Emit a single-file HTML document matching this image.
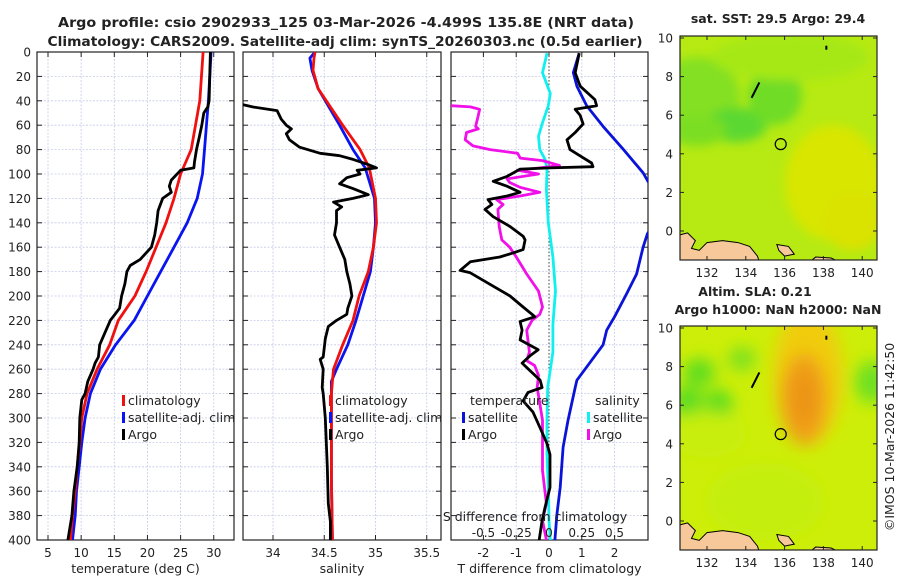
<!DOCTYPE html>
<html><head><meta charset="utf-8"><style>
html,body{margin:0;padding:0;background:#fff;}
svg{display:block;font-family:"DejaVu Sans","Liberation Sans",sans-serif;}
</style></head><body>
<svg id="chart" width="900" height="580" viewBox="0 0 900 580" xmlns="http://www.w3.org/2000/svg">
<defs>
<clipPath id="c1"><rect x="37" y="52" width="197" height="488"/></clipPath>
<clipPath id="c2"><rect x="243" y="52" width="198" height="488"/></clipPath>
<clipPath id="c3"><rect x="451" y="52" width="197" height="488"/></clipPath>
<clipPath id="cm1"><rect x="680" y="36" width="197" height="224"/></clipPath>
<clipPath id="cm2"><rect x="680" y="326" width="197" height="224"/></clipPath>
<filter id="blur8" x="-50%" y="-50%" width="200%" height="200%"><feGaussianBlur stdDeviation="8"/></filter>
<filter id="blur5" x="-50%" y="-50%" width="200%" height="200%"><feGaussianBlur stdDeviation="5"/></filter>
</defs>
<g id="layer"></g>
</svg>
<script>
// ---------- data ----------
const tempDepth = [0,40,80,100,120,140,160,180,200,220,240,260,280,300,320,340,360,380,400];
const tempClim  = [28.4,27.9,26.6,25,24,22.8,21.3,19.8,18.1,15.6,14.3,12.4,10.9,10.1,9.8,9.4,9.1,8.7,8.4];
const tempSat   = [29.6,29.2,28.6,28.3,27.5,26,24,22,20,18,15.2,12.9,11.4,10.6,10.1,9.7,9.3,9.1,8.7];
const argoTDepth = [0,40,45,50,60,70,80,90,95,97,105,110,115,120,130,140,150,160,170,175,180,190,200,210,215,220,230,240,250,255,260,270,280,285,300,320,340,360,380,400];
const argoT      = [29.5,29.3,29.1,28.5,28.2,27.8,27.4,27.1,27,25,23.6,23.3,23.6,22.3,21.6,21.4,21.1,20.6,18.9,17.4,16.9,16.6,16.1,15.8,15.1,14.4,13.6,12.8,12.6,12.1,11.8,11,10.6,10.1,9.8,9.7,9.4,8.9,8.6,8.0];

const salDepth = [0,5,15,30,60,80,95,120,140,160,180,200,220,240,260,270,280,300,350,400];
const salClim  = [34.41,34.40,34.39,34.44,34.68,34.85,34.94,35.0,35.01,34.98,34.93,34.84,34.78,34.68,34.59,34.58,34.57,34.57,34.57,34.58];
const salSat   = [34.41,34.36,34.38,34.44,34.65,34.78,34.9,34.99,35.0,34.98,34.95,34.88,34.81,34.73,34.62,34.57,34.57,34.57,34.57,34.58];
const argoSDepth = [43,45,48,55,60,63,67,72,78,83,85,88,92,95,97,100,103,108,112,117,120,123,127,130,140,150,160,170,180,190,200,210,215,220,225,235,250,252,260,275,280,300,340,370,385,400];
const argoS      = [33.7,33.8,34.04,34.08,34.13,34.18,34.13,34.16,34.26,34.46,34.65,34.78,34.92,35.01,34.82,34.85,34.72,34.65,34.78,34.93,34.78,34.59,34.67,34.62,34.62,34.6,34.65,34.7,34.72,34.75,34.77,34.73,34.72,34.62,34.54,34.51,34.49,34.46,34.49,34.48,34.49,34.51,34.53,34.54,34.56,34.56];

const satTDiffDepth = [1,17,28,44,61,80,99,110,125,140,149,160,182,198,217,228,240,269,275,302,324,357,379,400];
const satTDiff      = [0.92,0.74,0.85,1.15,1.65,2.27,2.87,3.1,3.3,3.2,3.0,2.87,2.67,2.37,2.0,1.76,1.65,0.85,0.8,0.58,0.43,0.34,0.24,0.18];
const argoTDiffDepth = [1,17,28,39,44,47,52,59,66,72,80,86,91,94,95,96,102,106,110,115,118,121,125,129,135,143,151,154,162,165,168,172,179,181,192,200,209,217,221,228,236,244,249,255,269,275,279,286,295,308,321,330,357,373,384,400];
const argoTDiff      = [0.92,0.8,0.95,1.4,1.45,0.8,0.95,1.04,0.8,0.55,0.64,1.0,1.3,1.34,0.03,-0.88,-1.28,-1.7,-1.28,-0.88,-1.28,-1.86,-1.74,-1.95,-1.7,-1.19,-0.79,-0.73,-0.79,-1.13,-1.5,-2.4,-2.71,-2.4,-1.7,-1.19,-0.79,-0.43,-0.88,-0.82,-0.88,-0.33,-0.58,-0.82,-0.27,-0.21,-0.64,-0.79,-0.49,-0.27,-0.06,0.03,0.03,-0.12,-0.21,-0.3];
const satSDiffDepth = [1,17,34,44,58,69,80,88,96,113,140,168,196,223,246,275,302,330,357,384,400];
const satSDiff      = [-0.015,-0.05,0.01,-0.005,-0.05,-0.08,-0.07,-0.03,-0.015,-0.02,-0.005,0.03,0.05,0.03,0.03,-0.01,-0.015,-0.015,-0.005,0,0.01];
const argoSDiffDepth = [44,45,47,52,61,63,66,72,77,80,83,87,89,93,95,97,100,104,107,111,115,118,121,125,129,143,154,160,168,182,196,209,215,220,228,246,253,257,265,275,288,302,319,343,370,384,400];
const argoSDiff      = [-0.75,-0.6,-0.53,-0.54,-0.56,-0.54,-0.63,-0.64,-0.58,-0.45,-0.24,-0.22,-0.05,0.08,-0.07,-0.24,-0.08,-0.32,-0.3,-0.22,-0.07,-0.22,-0.4,-0.35,-0.39,-0.38,-0.36,-0.3,-0.25,-0.17,-0.08,-0.05,-0.07,-0.13,-0.17,-0.15,-0.17,-0.11,-0.08,-0.09,-0.07,-0.05,-0.05,-0.05,-0.02,-0.05,-0.02];

const depthTicks = [0,20,40,60,80,100,120,140,160,180,200,220,240,260,280,300,320,340,360,380,400];
const tempTicks = [5,10,15,20,25,30];
const salTicks = [34,34.5,35,35.5];
const salTickLabels = ["34","34.5","35","35.5"];
const tDiffTicks = [-2,-1,0,1,2];
const sDiffTicks = [-0.5,-0.25,0,0.25,0.5];
const sDiffTickLabels = ["-0.5","-0.25","0","0.25","0.5"];
const lonTicks = [132,134,136,138,140];
const latTicks = [0,2,4,6,8,10];

// ---------- scales ----------
const yD = d => 52 + d*1.22;
const xT = t => 48 + (t-5)*6.63;
const xS = s => 273 + (s-34)*102.5;
const xTD = v => 549 + v*32.8;
const xSD = v => 549 + v*131;
const lonX = l => 707 + (l-132)*19.4;
const lat1 = a => 231 - a*19.3;
const lat2 = a => 521 - a*19.3;

const NS = "http://www.w3.org/2000/svg";
const root = document.getElementById("layer");
function mk(tag, attrs, parent){
  const e = document.createElementNS(NS, tag);
  for (const k in attrs) e.setAttribute(k, attrs[k]);
  (parent||root).appendChild(e);
  return e;
}
function txt(x,y,s,size,anchor,weight,parent){
  const e = mk("text",{x:x,y:y,"font-size":size,"text-anchor":anchor||"middle","font-weight":weight||"normal",fill:"#222"},parent);
  e.textContent = s;
  return e;
}

// ---------- titles ----------
let t1 = txt(346,27,"Argo profile: csio 2902933_125 03-Mar-2026 -4.499S 135.8E (NRT data)",13,"middle","bold");
t1.setAttribute("textLength","576");
t1.setAttribute("lengthAdjust","spacingAndGlyphs");


let t2 = txt(345,46,"Climatology: CARS2009. Satellite-adj clim: synTS_20260303.nc (0.5d earlier)",13,"middle","bold");
t2.setAttribute("textLength","595");
t2.setAttribute("lengthAdjust","spacingAndGlyphs");



// ---------- profile panels ----------
const panels = [
  {x0:37,x1:234,clip:"c1",name:"temperature-panel",xt:tempTicks.map(xT),xl:tempTicks.map(String),label:"temperature (deg C)",ylab:true},
  {x0:243,x1:441,clip:"c2",name:"salinity-panel",xt:salTicks.map(xS),xl:salTickLabels,label:"salinity",ylab:false},
  {x0:451,x1:648,clip:"c3",name:"difference-panel",xt:tDiffTicks.map(xTD),xl:tDiffTicks.map(String),label:"T difference from climatology",ylab:false}
];
panels.forEach(p=>{
  const g = mk("g",{});
  
  
  depthTicks.forEach(d=>{
    const y = yD(d);
    if (d>0 && d<400) {
      const gl = mk("line",{x1:p.x0,x2:p.x1,y1:y,y2:y,stroke:"#c5cbe8","stroke-width":0.8,"stroke-dasharray":"2,1.5"},g);
      
      
    }
    mk("line",{x1:p.x0,x2:p.x0+5,y1:y,y2:y,stroke:"#222","stroke-width":1},g);
    mk("line",{x1:p.x1-5,x2:p.x1,y1:y,y2:y,stroke:"#222","stroke-width":1},g);
    if (p.ylab) {
      const l = txt(31,y+4.5,String(d),12,"end","normal",g);
      
      
    }
  });
  p.xt.forEach((x,i)=>{
    const gl = mk("line",{x1:x,x2:x,y1:52,y2:540,stroke:"#c5cbe8","stroke-width":0.8,"stroke-dasharray":"2,1.5"},g);
    
    
    mk("line",{x1:x,x2:x,y1:540,y2:535,stroke:"#222","stroke-width":1},g);
    mk("line",{x1:x,x2:x,y1:52,y2:57,stroke:"#222","stroke-width":1},g);
    const l = txt(x,557,p.xl[i],12,"middle","normal",g);
    
    
  });
  const at = txt((p.x0+p.x1)/2,573,p.label,12.5,"middle","normal",g);
  
  
  const fr = mk("rect",{x:p.x0,y:52,width:p.x1-p.x0,height:488,fill:"none",stroke:"#222","stroke-width":1.2},g);
  
  
});

const zl = mk("line",{x1:549,x2:549,y1:52,y2:540,stroke:"#444","stroke-width":1,"stroke-dasharray":"1.5,2"});



function series(depths, vals, xf, color, clip, name){
  const pts = depths.map((d,i)=>xf(vals[i]).toFixed(1)+","+yD(d).toFixed(1)).join(" ");
  const e = mk("polyline",{points:pts,fill:"none",stroke:color,"stroke-width":2.8,"stroke-linejoin":"round","clip-path":"url(#"+clip+")"});
  
  
  return e;
}
series(tempDepth,tempSat,xT,"#0a14f0","c1","temperature-satellite-line");
series(tempDepth,tempClim,xT,"#f01010","c1","temperature-climatology-line");
series(argoTDepth,argoT,xT,"#000","c1","temperature-argo-line");
series(salDepth,salSat,xS,"#0a14f0","c2","salinity-satellite-line");
series(salDepth,salClim,xS,"#f01010","c2","salinity-climatology-line");
series(argoSDepth,argoS,xS,"#000","c2","salinity-argo-line");
series(satTDiffDepth,satTDiff,xTD,"#0a14d8","c3","t-diff-satellite-line");
series(satSDiffDepth,satSDiff,xSD,"#10f0f0","c3","s-diff-satellite-line");
series(argoSDiffDepth,argoSDiff,xSD,"#f010e8","c3","s-diff-argo-line");
series(argoTDiffDepth,argoTDiff,xTD,"#000","c3","t-diff-argo-line");

const sdt = txt(535,521,"S difference from climatology",12.5,"middle");


sDiffTicks.forEach((v,i)=>{
  const l = txt(xSD(v),537,sDiffTickLabels[i],12,"middle");
  
  
});

function legEntry(x,y,color,label,name){
  const g = mk("g",{});
  
  
  mk("rect",{x:x,y:y-10,width:3,height:11,fill:color},g);
  txt(x+6,y,label,12.5,"start","normal",g);
}
[[122,"temperature"],[329,"salinity"]].forEach(a=>{
  legEntry(a[0],405,"#f01010","climatology","legend-entry-climatology");
  legEntry(a[0],422,"#0a14f0","satellite-adj. clim","legend-entry-satellite-adj");
  legEntry(a[0],439,"#000","Argo","legend-entry-argo");
});
const lt = txt(470,405,"temperature",12.5,"start");


const ls = txt(595,405,"salinity",12.5,"start");


legEntry(462,422,"#0a14d8","satellite","legend-entry-t-satellite");
legEntry(462,439,"#000","Argo","legend-entry-t-argo");
legEntry(587,422,"#10f0f0","satellite","legend-entry-s-satellite");
legEntry(587,439,"#f010e8","Argo","legend-entry-s-argo");

// ---------- maps ----------
const sstBlobs = [[131.5,7,2.2,2,"#84e020"],[133.5,5.5,1.6,0.9,"#5cd830"],[135.5,7,1.4,1.5,"#70dc28"],[131.5,5.2,1.5,0.8,"#7cde24"],[138.5,2.5,2.5,3,"#d8e600"],[139.5,0.5,1.5,1.5,"#dae200"],[136.3,9,4,1.2,"#a6e818"]];
const slaBlobs = [[137.2,7.5,1.8,3.6,"#f0cc10"],[137,6.3,1.2,2.4,"#f0a018"],[137,6.4,0.7,1.4,"#ec9418"],[131,6.1,0.8,0.9,"#58dc20"],[132.6,6,0.7,0.8,"#50dc20"],[131.6,7.7,0.8,0.7,"#58dc20"],[133.8,8.4,0.7,0.6,"#78e020"],[140.5,7.2,0.9,1.1,"#70e020"],[132,4.5,2,1.2,"#c8ee10"],[135,1,3,2,"#c4ee10"]];

function drawMap(latf, ytop, clip, base, blobs, blurId, name){
  const g = mk("g",{"clip-path":"url(#"+clip+")"});
  
  
  mk("rect",{x:680,y:ytop,width:197,height:224,fill:base},g);
  const bg = mk("g",{filter:"url(#"+blurId+")"},g);
  blobs.forEach(b=>{
    const el = mk("ellipse",{cx:lonX(b[0]),cy:latf(b[1]),rx:b[2]*19.4,ry:b[3]*19.3,fill:b[4]},bg);
    
    
  });
  const land = [[130.6,-1.5],[130.6,-0.2],[131,-0.1],[131.4,-0.5],[131.2,-0.9],[131.6,-1.0],[132,-0.6],[132.8,-0.5],[133.6,-0.6],[134.2,-0.8],[134.6,-1.3],[134.7,-1.6]];
  const lp = mk("polygon",{points:land.map(p=>lonX(p[0])+","+latf(p[1])).join(" "),fill:"#f7c99a",stroke:"#000","stroke-width":1},g);
  
  
  const isl = [[135.6,-0.7],[136.2,-0.8],[136.5,-1.2],[136.0,-1.3],[135.7,-1.0]];
  const ip = mk("polygon",{points:isl.map(p=>lonX(p[0])+","+latf(p[1])).join(" "),fill:"#f7c99a",stroke:"#000","stroke-width":1},g);
  
  
  const coast = mk("polyline",{points:[[137.3,-1.6],[137.6,-1.35],[138.4,-1.4],[138.8,-1.6]].map(p=>lonX(p[0])+","+latf(p[1])).join(" "),fill:"#f7c99a",stroke:"#000","stroke-width":1},g);
  
  
  const pal = mk("line",{x1:lonX(134.3),y1:latf(6.9),x2:lonX(134.7),y2:latf(7.7),stroke:"#000","stroke-width":2},g);
  
  
  mk("rect",{x:lonX(138.1),y:latf(9.6),width:2,height:4,fill:"#000"},g);
  const circ = mk("circle",{cx:lonX(135.8),cy:latf(4.5),r:5.5,fill:"none",stroke:"#000","stroke-width":1.2},g);
  
  
  const ax = mk("g",{});
  
  
  mk("rect",{x:680,y:ytop,width:197,height:224,fill:"none",stroke:"#222","stroke-width":1.2},ax);
  latTicks.forEach(a=>{
    const y = latf(a);
    mk("line",{x1:680,x2:684,y1:y,y2:y,stroke:"#222"},ax);
    mk("line",{x1:873,x2:877,y1:y,y2:y,stroke:"#222"},ax);
    const l = txt(673,y+4.5,String(a),12,"end","normal",ax);
    
    
  });
  lonTicks.forEach(l0=>{
    const x = lonX(l0);
    mk("line",{x1:x,x2:x,y1:ytop+224,y2:ytop+220,stroke:"#222"},ax);
    mk("line",{x1:x,x2:x,y1:ytop,y2:ytop+4,stroke:"#222"},ax);
    const l = txt(x,ytop+241,String(l0),12,"middle","normal",ax);
    
    
  });
}
drawMap(lat1,36,"cm1","#b6ea12",sstBlobs,"blur5","sst-map");
drawMap(lat2,326,"cm2","#cdee08",slaBlobs,"blur8","sla-map");

const mt1 = txt(778,23,"sat. SST: 29.5 Argo: 29.4",12.5,"middle","bold");


const mt2 = txt(755,296,"Altim. SLA: 0.21",12.5,"middle","bold");


const mt3 = txt(778,314,"Argo h1000: NaN h2000: NaN",12.5,"middle","bold");


const cp = txt(0,0,"©IMOS 10-Mar-2026 11:42:50",12.5,"middle");
cp.setAttribute("transform","translate(894,437) rotate(-90)");


</script>
</body></html>
